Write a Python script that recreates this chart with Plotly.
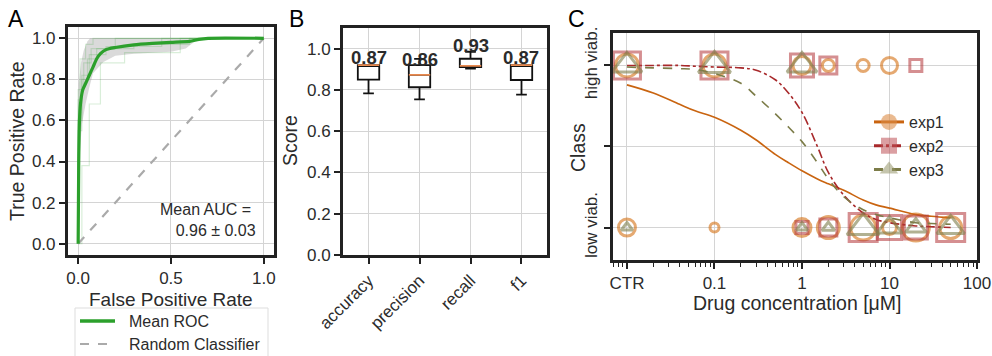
import plotly.graph_objects as go

FONT = "Liberation Sans, Arial, sans-serif"
INK = "#2b2b2b"
GRID = "#d4d4d4"
W, H = 992, 356

# ---------------- Panel A: ROC ----------------
mean_fpr = [0, 0.003, 0.008, 0.015, 0.025, 0.04, 0.06, 0.08, 0.1, 0.12, 0.15, 0.2, 0.3, 0.4, 0.5, 0.6, 0.65, 0.7, 1.0]
mean_tpr = [0, 0.40, 0.62, 0.70, 0.75, 0.78, 0.82, 0.86, 0.90, 0.925, 0.945, 0.955, 0.968, 0.975, 0.98, 0.985, 0.995, 1.0, 1.0]

band_up_fpr = [0, 0.004, 0.015, 0.03, 0.05, 0.065, 1.0]
band_up_tpr = [0, 0.78, 0.88, 0.94, 0.985, 1.0, 1.0]
band_lo_fpr = [0, 0.01, 0.02, 0.04, 0.06, 0.08, 0.136, 0.2, 0.3, 0.5, 0.58, 0.65, 1.0]
band_lo_tpr = [0, 0.45, 0.58, 0.68, 0.76, 0.83, 0.885, 0.915, 0.925, 0.935, 0.95, 1.0, 1.0]

fold_fpr = [
    [0, 0.02, 0.02, 0.06, 0.06, 0.12, 0.12, 0.25, 0.25, 0.55, 0.55, 1.0],
    [0, 0, 0.02, 0.02, 0.05, 0.05, 0.1, 0.1, 0.3, 0.3, 0.6, 0.6, 1.0],
    [0, 0, 0.01, 0.01, 0.04, 0.04, 0.08, 0.08, 1.0],
    [0, 0, 0.02, 0.02, 0.06, 0.06, 0.15, 0.15, 0.45, 0.45, 1.0],
    [0, 0, 0.03, 0.03, 0.07, 0.07, 0.2, 0.2, 1.0],
]
fold_tpr = [
    [0, 0, 0.38, 0.38, 0.68, 0.68, 0.88, 0.88, 0.93, 0.93, 1.0, 1.0],
    [0, 0.55, 0.55, 0.80, 0.80, 0.90, 0.90, 0.95, 0.95, 0.97, 0.97, 1.0, 1.0],
    [0, 0.70, 0.70, 0.90, 0.90, 0.97, 0.97, 1.0, 1.0],
    [0, 0.60, 0.60, 0.82, 0.82, 0.92, 0.92, 0.96, 0.96, 1.0, 1.0],
    [0, 0.75, 0.75, 0.88, 0.88, 0.95, 0.95, 1.0, 1.0],
]
mean_auc = 0.96
std_auc = 0.03

# ---------------- Panel B: scores ----------------
metrics = ["accuracy", "precision", "recall", "f1"]
q1 = [0.85, 0.813, 0.911, 0.848]
median = [0.92, 0.873, 0.917, 0.92]
q3 = [0.92, 0.92, 0.951, 0.92]
lower_fence = [0.783, 0.754, 0.903, 0.777]
upper_fence = [0.92, 0.95, 0.985, 0.92]
means = [0.87, 0.86, 0.93, 0.87]

# ---------------- Panel C: drug response ----------------
conc_ticks = [0.01, 0.1, 1, 10, 100]
conc_labels = ["CTR", "0.1", "1", "10", "100"]

exp1_x = [0.01, 0.1, 1, 2, 5, 10, 0.01, 0.1, 1, 2, 5, 10, 20, 50]
exp1_y = [1, 1, 1, 1, 1, 1, 0, 0, 0, 0, 0, 0, 0, 0]
exp1_n = [23, 23, 18, 12, 12, 16, 17, 9, 18, 22, 25, 14, 27, 22]

exp2_x = [0.01, 0.1, 1, 2, 20, 1, 2, 5, 10, 20, 50]
exp2_y = [1, 1, 1, 1, 1, 0, 0, 0, 0, 0, 0]
exp2_n = [27, 27, 23, 17, 12, 12, 17, 28, 24, 23, 28]

exp3_x = [0.01, 0.1, 1, 0.01, 1, 2, 5, 10, 20, 50]
exp3_y = [1, 1, 1, 0, 0, 0, 0, 0, 0, 0]
exp3_n = [26, 28, 26, 10, 10, 11, 28, 22, 18, 24]

fit_x = [0.01, 0.02, 0.04, 0.06, 0.1, 0.2, 0.3, 0.5, 0.7, 1, 1.5, 2, 3, 5, 7, 10, 20, 30, 50]
fit1_y = [0.88, 0.83, 0.76, 0.72, 0.68, 0.60, 0.54, 0.45, 0.40, 0.35, 0.30, 0.27, 0.23, 0.17, 0.14, 0.12, 0.08, 0.07, 0.06]
fit2_y = [1.0, 1.0, 1.0, 0.995, 0.99, 0.985, 0.97, 0.91, 0.83, 0.71, 0.50, 0.34, 0.20, 0.09, 0.05, 0.03, 0.01, 0.005, 0.0]
fit3_y = [0.99, 0.985, 0.98, 0.975, 0.95, 0.89, 0.81, 0.70, 0.62, 0.53, 0.40, 0.30, 0.19, 0.11, 0.08, 0.06, 0.03, 0.025, 0.02]

C1_LINE, C1_MK, C1_LEG = "#c96410", "rgba(212,115,25,0.88)", "rgba(220,140,70,0.6)"
C2_LINE, C2_MK, C2_LEG = "#a8292b", "rgba(180,55,58,0.8)", "rgba(190,80,85,0.55)"
C3_LINE, C3_MK, C3_LEG = "#7c7c48", "rgba(128,128,78,0.88)", "rgba(150,150,105,0.55)"

fig = go.Figure()

# ---- A traces ----
fig.add_trace(go.Scatter(
    x=band_up_fpr + band_lo_fpr[::-1], y=band_up_tpr + band_lo_tpr[::-1],
    fill="toself", fillcolor="rgba(150,150,150,0.35)", line=dict(width=0),
    mode="lines", showlegend=False, hoverinfo="skip", xaxis="x", yaxis="y"))
for fx, fy in zip(fold_fpr, fold_tpr):
    fig.add_trace(go.Scatter(x=fx, y=fy, mode="lines",
                             line=dict(color="rgba(44,160,44,0.18)", width=1.2),
                             showlegend=False, xaxis="x", yaxis="y"))
fig.add_trace(go.Scatter(x=[0, 1], y=[0, 1], mode="lines", showlegend=False,
                         line=dict(color="#aaaaaa", dash="dash", width=2.2), xaxis="x", yaxis="y"))
fig.add_trace(go.Scatter(x=mean_fpr, y=mean_tpr, mode="lines", showlegend=False,
                         line=dict(color="#2ca02c", width=3.2, shape="spline", smoothing=0.6),
                         xaxis="x", yaxis="y"))

# ---- B traces ----
fig.add_trace(go.Box(
    x=metrics, q1=q1, median=median, q3=q3, lowerfence=lower_fence, upperfence=upper_fence,
    fillcolor="white", line=dict(color="#111111", width=1.8), width=0.42, whiskerwidth=0.5,
    showlegend=False, xaxis="x2", yaxis="y2", boxpoints=False))
fig.add_trace(go.Box(
    x=metrics, q1=median, median=median, q3=median, lowerfence=median, upperfence=median,
    fillcolor="rgba(0,0,0,0)", line=dict(color="#e8894f", width=1.8), width=0.42, whiskerwidth=0,
    showlegend=False, xaxis="x2", yaxis="y2", boxpoints=False))

# ---- C traces ----
def add_exp(name, fx, fy, dash, lc, px, py, pn, symbol, mc, legc, legsym):
    fig.add_trace(go.Scatter(x=fx, y=fy, mode="lines", line=dict(color=lc, width=1.6, dash=dash, shape="spline"),
                             showlegend=False, xaxis="x3", yaxis="y3"))
    fig.add_trace(go.Scatter(x=px, y=py, mode="markers",
                             marker=dict(symbol=symbol, size=pn, color=mc, line=dict(width=3, color=mc)),
                             showlegend=False, xaxis="x3", yaxis="y3"))
    fig.add_trace(go.Scatter(x=[None], y=[None], mode="lines+markers", name=name,
                             line=dict(color=lc, width=3, dash=dash),
                             marker=dict(symbol=legsym, size=19, color=legc),
                             xaxis="x3", yaxis="y3", legend="legend2"))

add_exp("exp1", fit_x, fit1_y, "solid", C1_LINE, exp1_x, exp1_y, exp1_n, "circle-open", C1_MK, C1_LEG, "circle")
add_exp("exp2", fit_x, fit2_y, "dashdot", C2_LINE, exp2_x, exp2_y, exp2_n, "square-open", C2_MK, C2_LEG, "square")
add_exp("exp3", fit_x, fit3_y, "dash", C3_LINE, exp3_x, exp3_y, exp3_n, "triangle-up-open", C3_MK, C3_LEG, "triangle-up")

frame = dict(showline=True, linecolor="#222222", linewidth=3, mirror=True, automargin=False,
             ticks="outside", ticklen=6, tickwidth=1.6, tickcolor="#222222",
             showgrid=True, gridcolor=GRID, gridwidth=1.3, zeroline=False,
             tickfont=dict(size=17, color=INK, family=FONT))

minor_vals = ([0.007, 0.008, 0.009] + [k * 0.01 for k in range(2, 10)] + [k * 0.1 for k in range(2, 10)]
              + [float(k) for k in range(2, 10)] + [k * 10.0 for k in range(2, 10)])

fig.update_layout(
    width=W, height=H, margin=dict(l=0, r=0, t=0, b=0),
    paper_bgcolor="white", plot_bgcolor="white",
    font=dict(family=FONT, color=INK),
    xaxis=dict(domain=[0.0685, 0.2762], anchor="y", range=[-0.055, 1.055],
               tickvals=[0, 0.5, 1], ticktext=["0.0", "0.5", "1.0"], **frame),
    yaxis=dict(domain=[0.2837, 0.9242], anchor="x", range=[-0.055, 1.055],
               tickvals=[0, 0.2, 0.4, 0.6, 0.8, 1.0], ticktext=["0.0", "0.2", "0.4", "0.6", "0.8", "1.0"], **frame),
    xaxis2=dict(domain=[0.3458, 0.5514], anchor="y2", range=[-0.5, 3.5], type="category",
                tickangle=-45, **frame),
    yaxis2=dict(domain=[0.2837, 0.9213], anchor="x2", range=[0, 1.1],
                tickvals=[0, 0.2, 0.4, 0.6, 0.8, 1.0], ticktext=["0.0", "0.2", "0.4", "0.6", "0.8", "1.0"], **frame),
    xaxis3=dict(domain=[0.6179, 0.9849], anchor="y3", type="log", range=[-2.16, 2.0],
                tickvals=conc_ticks, ticktext=conc_labels,
                minor=dict(tickmode="array", tickvals=minor_vals, ticks="outside", ticklen=4,
                           tickwidth=1.3, tickcolor="#222222", showgrid=False), **frame),
    yaxis3=dict(domain=[0.2697, 0.9073], anchor="x3", range=[-0.2, 1.2],
                tickvals=[0, 0.5, 1], ticktext=["low viab.", "", "high viab."], tickangle=-90, **frame),
    legend2=dict(x=0.876, y=0.705, xanchor="left", yanchor="top", bgcolor="rgba(0,0,0,0)",
                 borderwidth=0, font=dict(size=16, color=INK, family=FONT), tracegroupgap=0),
)

def px_x(p):
    return p / W

def px_y(p):
    return 1 - p / H

title_font = dict(size=19.5, color=INK, family=FONT)
annotations = [
    dict(text="A", x=px_x(6), y=px_y(4), xanchor="left", yanchor="top",
         font=dict(size=23, color="black", family=FONT)),
    dict(text="B", x=px_x(287), y=px_y(4), xanchor="left", yanchor="top",
         font=dict(size=23, color="black", family=FONT)),
    dict(text="C", x=px_x(566), y=px_y(4), xanchor="left", yanchor="top",
         font=dict(size=23, color="black", family=FONT)),
    dict(text="True Positive Rate", x=px_x(17), y=px_y(141), textangle=-90, font=title_font),
    dict(text="False Positive Rate", x=px_x(171), y=px_y(299), font=dict(size=19, color=INK, family=FONT)),
    dict(text="Score", x=px_x(290), y=px_y(141), textangle=-90, font=title_font),
    dict(text="Class", x=px_x(578), y=px_y(148), textangle=-90, font=title_font),
    dict(text="Drug concentration [μM]", x=px_x(797), y=px_y(303), font=title_font),
    # legend of panel A
    dict(text="Mean ROC", x=px_x(127), y=px_y(321), xanchor="left", font=dict(size=16, color=INK, family=FONT)),
    dict(text="Random Classifier", x=px_x(127), y=px_y(344), xanchor="left",
         font=dict(size=16, color=INK, family=FONT)),
]
for a in annotations:
    a.update(xref="paper", yref="paper", showarrow=False)
    a.setdefault("xanchor", "center")
    a.setdefault("yanchor", "middle")

annotations.append(dict(text=f"Mean AUC = <br>{mean_auc:.2f} ± {std_auc:.2f}", x=0.97, y=0.115,
                        xref="x", yref="y", xanchor="right", yanchor="middle", align="right",
                        showarrow=False, font=dict(size=16, color=INK, family=FONT)))
for m, mu in zip(metrics, means):
    annotations.append(dict(text=f"<b>{mu:.2f}</b>", x=m, y=mu + 0.087, xref="x2", yref="y2",
                            xanchor="center", yanchor="middle", showarrow=False,
                            font=dict(size=18.5, color=INK, family=FONT)))

shapes = [
    dict(type="rect", xref="paper", yref="paper", x0=px_x(75), x1=px_x(268), y0=px_y(365), y1=px_y(308),
         line=dict(color="#dddddd", width=1), fillcolor="white", layer="above"),
    dict(type="line", xref="paper", yref="paper", x0=px_x(80), x1=px_x(115), y0=px_y(321), y1=px_y(321),
         line=dict(color="#2ca02c", width=3.5), layer="above"),
    dict(type="line", xref="paper", yref="paper", x0=px_x(80), x1=px_x(115), y0=px_y(344), y1=px_y(344),
         line=dict(color="#aaaaaa", width=2.2, dash="dash"), layer="above"),
]
fig.update_layout(annotations=annotations, shapes=shapes)

fig.write_html("out.html")
